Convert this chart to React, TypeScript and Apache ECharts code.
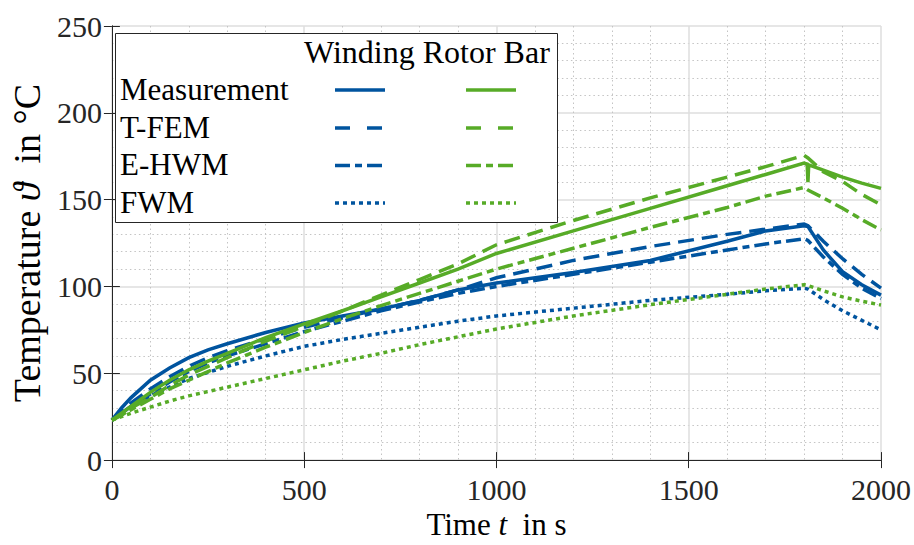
import React, { useEffect, useRef } from "react";
import * as echarts from "echarts";

const timeS = [0, 25, 50, 100, 150, 200, 250, 300, 400, 500, 600, 700, 800, 900, 1000, 1200, 1400, 1600, 1700, 1800, 1810, 1850, 1900, 1950, 2000];
const windingMeas = [23, 30, 36, 46, 53, 59, 63.5, 67, 73.5, 79, 83, 87, 92, 98, 102, 108, 115, 126, 132, 135, 134.5, 121, 108.5, 101, 95];
const windingFem = [23, 28, 33, 41, 48, 54, 59, 63, 70, 76.5, 82, 87, 92, 98, 105, 115, 123, 130, 133, 136, 135, 126, 116, 107, 99];
const windingEhwm = [23, 27, 31, 38, 45, 51, 56, 60, 67, 74, 80, 86, 91, 96, 100, 107, 114, 121, 124.5, 127.5, 126.5, 117, 107, 99, 93];
const windingFwm = [23, 27, 31, 37, 42, 47, 50.5, 54, 60, 65.5, 69.5, 73, 76.5, 80, 83, 87.5, 92, 95.5, 97.5, 99, 98.5, 92.5, 86, 80.5, 75];

const timeRotorMeas = [0, 25, 50, 100, 150, 200, 250, 300, 400, 500, 600, 700, 800, 900, 1000, 1200, 1400, 1600, 1700, 1800, 1808, 1810, 1812, 1850, 1900, 1950, 2000];
const rotorMeas = [23, 27, 31, 39, 46, 52, 57, 61.5, 70.5, 78.5, 86, 94, 102, 110, 119, 132, 145, 158, 164.5, 171, 170.5, 160, 170, 167, 163, 159.5, 156.5];
const rotorFem = [23, 26, 30, 36, 43, 49, 54, 59, 68.5, 77, 86, 95, 104, 113, 124, 138, 151, 163, 169, 175.5, 174, 166, 160.5, 153, 147];
const rotorEhwm = [23, 26, 29, 35, 41, 46, 51, 56, 65, 73.5, 81.5, 89, 96, 103, 110, 122, 134, 145.5, 152, 157, 155.5, 151, 145, 138.5, 132.5];
const rotorFwm = [23, 25, 27, 30.5, 34, 37, 39.5, 42, 47, 52, 57, 61.5, 66.5, 71, 75.5, 83, 89.5, 95.5, 98.5, 101, 100.5, 97.5, 94, 91.5, 89.3];

const legendRows = ["Measurement", "T-FEM", "E-HWM", "FWM"];
const legendHeader = "Winding Rotor Bar";

const BLUE = "#00549F";
const GREEN = "#57AB27";
const AX = "#262626";
const FONT = "Liberation Serif";

const DASH = [16, 8];
const DASHDOT = [15, 5, 7, 5];
const DOT = [4, 4];

function pairs(t: number[], v: number[]) {
  return t.map((x, i) => [x, v[i]]);
}

export default function App() {
  const ref = useRef<HTMLDivElement>(null);
  useEffect(() => {
    if (!ref.current) return;
    const chart = echarts.init(ref.current, undefined, { renderer: "svg" });
    const mk = (name: string, t: number[], v: number[], color: string, type: any, z: number) => ({
      name,
      type: "line",
      data: pairs(t, v),
      showSymbol: false,
      symbol: "none",
      z,
      lineStyle: { color, width: 3.5, type, cap: "butt", join: "miter" },
    });
    const legendDash: any[] = [null, [15, 17], DASHDOT, DOT];
    const rowY = [90, 128, 165.5, 203];
    const graphic: any[] = [
      {
        type: "rect",
        shape: { x: 115.5, y: 33.5, width: 442, height: 189 },
        style: { fill: "#ffffff", stroke: AX, lineWidth: 1 },
        z: 100,
      },
      {
        type: "text",
        x: 304,
        y: 52,
        style: { text: legendHeader, fontFamily: FONT, fontSize: 32, fill: "#000", verticalAlign: "middle" },
        z: 101,
      },
    ];
    legendRows.forEach((r, i) => {
      graphic.push({
        type: "text",
        x: 120,
        y: rowY[i] - 1,
        style: { text: r, fontFamily: FONT, fontSize: 31, fill: "#000", verticalAlign: "middle" },
        z: 101,
      });
      [
        [335, BLUE],
        [466, GREEN],
      ].forEach(([x0, c]: any) => {
        graphic.push({
          type: "line",
          shape: { x1: x0, y1: rowY[i], x2: x0 + 50, y2: rowY[i] },
          style: { stroke: c, lineWidth: 3.5, lineDash: legendDash[i], lineCap: "butt" },
          z: 101,
        });
      });
    });

    const plain = (v: number) => String(v);

    chart.setOption({
      animation: false,
      backgroundColor: "#ffffff",
      grid: { left: 109, top: 26, width: 772, height: 443, containLabel: false },
      xAxis: [
        {
          type: "value",
          min: 0,
          max: 2000,
          interval: 500,
          name: "Time {i|t}  in s",
          nameLocation: "middle",
          nameGap: 45,
          nameTextStyle: {
            fontFamily: FONT,
            fontSize: 31,
            color: "#000",
            rich: { i: { fontFamily: FONT, fontSize: 31, fontStyle: "italic", color: "#000" } },
          },
          axisLine: { show: true, lineStyle: { color: AX, width: 1 } },
          axisTick: { show: true, inside: true, length: 8, lineStyle: { color: AX } },
          axisLabel: { fontFamily: FONT, fontSize: 30, color: "#262626", margin: 14, formatter: plain },
          splitLine: { show: true, lineStyle: { color: "#dedede", width: 1.5 } },
          minorTick: { show: false, splitNumber: 5 },
          minorSplitLine: { show: true, lineStyle: { color: "#c4c4c4", width: 1, type: [1.5, 3] } },
        },
        {
          type: "value",
          position: "top",
          min: 0,
          max: 2000,
          interval: 500,
          axisLine: { show: true, lineStyle: { color: AX, width: 1 } },
          axisTick: { show: true, inside: true, length: 8, lineStyle: { color: AX } },
          axisLabel: { show: false },
          splitLine: { show: false },
        },
      ],
      yAxis: [
        {
          type: "value",
          min: 0,
          max: 250,
          interval: 50,
          name: "Temperature {i|ϑ}  in °C",
          nameLocation: "middle",
          nameGap: 56,
          nameTextStyle: {
            fontFamily: FONT,
            fontSize: 38,
            color: "#000",
            rich: { i: { fontFamily: FONT, fontSize: 38, fontStyle: "italic", color: "#000" } },
          },
          axisLine: { show: true, lineStyle: { color: AX, width: 1 } },
          axisTick: { show: true, inside: true, length: 8, lineStyle: { color: AX } },
          axisLabel: { fontFamily: FONT, fontSize: 30, color: "#262626", margin: 10, formatter: plain },
          splitLine: { show: true, lineStyle: { color: "#dedede", width: 1.5 } },
          minorTick: { show: false, splitNumber: 5 },
          minorSplitLine: { show: true, lineStyle: { color: "#c4c4c4", width: 1, type: [1.5, 3] } },
        },
        {
          type: "value",
          position: "right",
          min: 0,
          max: 250,
          interval: 50,
          axisLine: { show: true, lineStyle: { color: AX, width: 1 } },
          axisTick: { show: true, inside: true, length: 8, lineStyle: { color: AX } },
          axisLabel: { show: false },
          splitLine: { show: false },
        },
      ],
      series: [
        mk("Winding FWM", timeS, windingFwm, BLUE, DOT, 2),
        mk("Rotor FWM", timeS, rotorFwm, GREEN, DOT, 2),
        mk("Winding E-HWM", timeS, windingEhwm, BLUE, DASHDOT, 3),
        mk("Winding T-FEM", timeS, windingFem, BLUE, DASH, 3),
        mk("Winding Measurement", timeS, windingMeas, BLUE, "solid", 4),
        mk("Rotor E-HWM", timeS, rotorEhwm, GREEN, DASHDOT, 5),
        mk("Rotor T-FEM", timeS, rotorFem, GREEN, DASH, 5),
        mk("Rotor Measurement", timeRotorMeas, rotorMeas, GREEN, "solid", 6),
      ],
      graphic,
    });
    return () => chart.dispose();
  }, []);
  return (
    <div
      ref={ref}
      style={{ position: "fixed", left: 0, top: 0, width: 914, height: 545, background: "#fff" }}
    />
  );
}
